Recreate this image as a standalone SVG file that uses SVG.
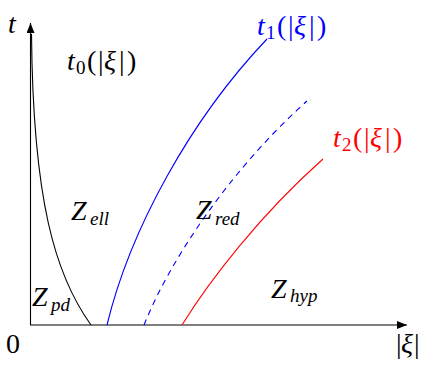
<svg xmlns="http://www.w3.org/2000/svg" width="425" height="367" viewBox="0 0 425 367">
<style>
.lbl{font-family:"Liberation Serif","DejaVu Serif",serif;font-size:28px;fill:#000}
.it{font-style:italic}
.sub{font-size:19px;font-style:italic}
.subn{font-size:19px}
.crv{fill:none;stroke-width:1.1}
</style>
<defs>
<marker id="arr" viewBox="0 0 10 8" refX="10" refY="4" markerWidth="10" markerHeight="8" markerUnits="userSpaceOnUse" orient="auto">
<path d="M0,0 L10,4 L0,8 Z" fill="#000"/>
</marker>
</defs>
<g id="axes">
<line x1="30.5" y1="325" x2="30.5" y2="23" stroke="#000" stroke-width="1.1" marker-end="url(#arr)"/>
<line x1="30" y1="325" x2="407" y2="325" stroke="#000" stroke-width="1.1" marker-end="url(#arr)"/>
<text class="lbl it" x="8" y="33">t</text>
<text class="lbl" x="6" y="353">0</text>
<text class="lbl" y="353"><tspan x="396">|</tspan><tspan class="it" x="401">ξ</tspan><tspan x="414">|</tspan></text>
</g>
<g id="connectors">
<path id="t0" class="crv" stroke="#000" d="M31.5,34 C33,200 55,275 91,325"/>
<path id="t1" class="crv" stroke="#0000ff" d="M107,325 C130,230 190,120 267,39"/>
<path id="t1d" class="crv" stroke="#0000ff" stroke-dasharray="6,5" d="M144,325 C170,260 230,170 307,101"/>
<path id="t2" class="crv" stroke="#ff0000" d="M182,325 C210,280 260,215 323,159"/>
</g>
<g id="label-t0">
<text class="lbl" y="70"><tspan class="it" x="67">t</tspan><tspan class="subn" x="76" y="74">0</tspan><tspan x="87" y="70">(</tspan><tspan x="98">|</tspan><tspan class="it" x="104">ξ</tspan><tspan x="119">|</tspan><tspan x="127">)</tspan></text>
</g>
<g id="label-t1">
<text class="lbl" y="35" style="fill:#0000ff"><tspan class="it" x="257">t</tspan><tspan class="subn" x="266" y="39">1</tspan><tspan x="277" y="35">(</tspan><tspan x="288">|</tspan><tspan class="it" x="294">ξ</tspan><tspan x="309">|</tspan><tspan x="317">)</tspan></text>
</g>
<g id="label-t2">
<text class="lbl" y="147" style="fill:#ff0000"><tspan class="it" x="333">t</tspan><tspan class="subn" x="342" y="151">2</tspan><tspan x="353" y="147">(</tspan><tspan x="364">|</tspan><tspan class="it" x="370">ξ</tspan><tspan x="385">|</tspan><tspan x="393">)</tspan></text>
</g>
<g id="Z_ell">
<text class="lbl it" x="71" y="220">Z<tspan class="sub" x="90" y="225">ell</tspan></text>
</g>
<g id="Z_red">
<text class="lbl it" x="196" y="219">Z<tspan class="sub" x="215" y="225">red</tspan></text>
</g>
<g id="Z_pd">
<text class="lbl it" x="32" y="306">Z<tspan class="sub" x="51" y="311">pd</tspan></text>
</g>
<g id="Z_hyp">
<text class="lbl it" x="271" y="298">Z<tspan class="sub" x="290" y="302">hyp</tspan></text>
</g>
</svg>
